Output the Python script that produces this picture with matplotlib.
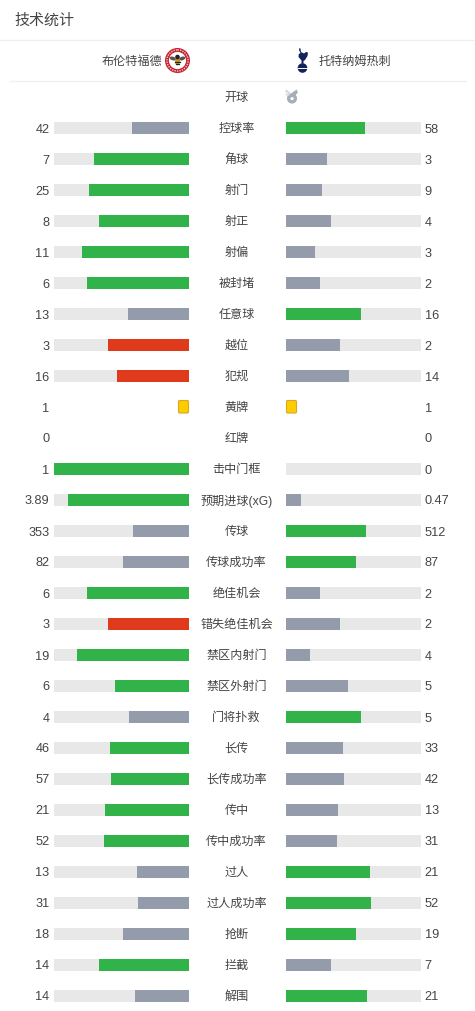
import math
import matplotlib
matplotlib.use('Agg')
import matplotlib.pyplot as plt
from matplotlib.patches import Circle, Ellipse, Polygon, FancyBboxPatch

plt.rcParams['font.family'] = ['Liberation Sans', 'Noto Sans CJK SC', 'DejaVu Sans']
# no pair kerning, "11" should not close up
plt.rcParams['text.kerning_factor'] = 6

stats = ['控球率', '角球', '射门', '射正', '射偏', '被封堵', '任意球', '越位', '犯规',
         '黄牌', '红牌', '击中门框', '预期进球(xG)', '传球', '传球成功率', '绝佳机会',
         '错失绝佳机会', '禁区内射门', '禁区外射门', '门将扑救', '长传', '长传成功率',
         '传中', '传中成功率', '过人', '过人成功率', '抢断', '拦截', '解围']
home = [42, 7, 25, 8, 11, 6, 13, 3, 16, 1, 0, 1, 3.89, 353, 82, 6, 3, 19, 6, 4, 46, 57,
        21, 52, 13, 31, 18, 14, 14]
away = [58, 3, 9, 4, 3, 2, 16, 2, 14, 1, 0, 0, 0.47, 512, 87, 2, 2, 4, 5, 5, 33, 42,
        13, 31, 21, 52, 19, 7, 21]
# more is bad for these, so the leader gets red
bad_stats = ['越位', '犯规', '错失绝佳机会']
card_stats = ['黄牌', '红牌']

GREEN = '#32b34a'
GREY = '#949cac'
RED = '#e03a1c'
TRACK = '#e8e8e8'
TEXT = '#444444'
FS = 8.7

fig = plt.figure(figsize=(4.75, 10.12), dpi=100, facecolor='white')
ax = fig.add_axes([0, 0, 1, 1])
ax.set_xlim(0, 475); ax.set_ylim(1012, 0); ax.axis('off')

# header
ax.text(14.5, 20.5, '技术统计', fontsize=10.8, color=TEXT, ha='left', va='center')
ax.plot([0, 475], [40.5, 40.5], color='#f0f0f0', lw=1)
ax.plot([10, 466], [81.5, 81.5], color='#f0f0f0', lw=1)
ax.text(162, 61.5, '布伦特福德', fontsize=FS, color=TEXT, ha='right', va='center')
ax.text(319, 61.5, '托特纳姆热刺', fontsize=FS, color=TEXT, ha='left', va='center')

# brentford badge
ax.add_patch(Circle((177.5, 61.5), 12.5, fc='#c8202c', ec='none'))
ax.add_patch(Circle((177.5, 61.5), 10.6, fc='none', ec='#eec9cb', lw=1, ls=(0, (1, 0.8))))
ax.add_patch(Circle((177.5, 61.5), 8.6, fc='white', ec='none'))
ax.add_patch(Ellipse((172.8, 59.5), 6.5, 3.6, angle=18, fc='#555555', ec='none'))
ax.add_patch(Ellipse((182.2, 59.5), 6.5, 3.6, angle=-18, fc='#555555', ec='none'))
ax.add_patch(Ellipse((177.5, 62.5), 5, 8, fc='#c9971c', ec='none'))
ax.add_patch(Circle((177.5, 58), 2.3, fc='#222222', ec='none'))
ax.plot([175.3, 179.7], [62.5, 62.5], color='#222222', lw=0.9)
ax.plot([175.6, 179.4], [65, 65], color='#222222', lw=0.8)

# spurs badge
NAVY = '#14225a'
ax.add_patch(Circle((302.5, 69), 4.8, fc=NAVY, ec='none'))
ax.plot([298, 307], [69, 69], color='white', lw=0.7)
ax.add_patch(Polygon([(299.5, 49), (300.5, 49.5), (301, 53), (304, 54.5), (306, 53), (308, 53.5),
                      (307.5, 57), (305, 61), (303.5, 62), (303.5, 64.5), (301.5, 64.5),
                      (301.5, 61.5), (298.5, 58), (298.8, 55), (300.5, 54), (299, 51)],
                     fc=NAVY, ec='none'))

# kick-off whistle
WHISTLE = '#a8aeb9'
ax.add_patch(Circle((292, 99.5), 3.4, fc='white', ec=WHISTLE, lw=2.4))
ax.add_patch(Polygon([(288.5, 96.5), (296.5, 90.5), (298, 93.5), (294.5, 97), (290, 99)],
                     fc=WHISTLE, ec='none'))
ax.plot([286.5, 289], [92, 94], color='#d6d9de', lw=1.6)
ax.plot([286.5, 288.5], [95.5, 96], color='#d6d9de', lw=1.2)

ax.text(236.5, 98, '开球', fontsize=FS, color=TEXT, ha='center', va='center')

row_y = [129 + 31 * i for i in range(len(stats))]
BAR_W = 135
L_END = 189
R_START = 286

for name, y, h_val, a_val in zip(stats, row_y, home, away):
    ax.text(236.5, y, name, fontsize=FS, color=TEXT, ha='center', va='center')
    ax.text(49.5, y - 1, str(h_val), fontsize=9.2, color=TEXT, ha='right', va='center_baseline')
    ax.text(424.5, y - 1, str(a_val), fontsize=9.2, color=TEXT, ha='left', va='center_baseline')

    if name in card_stats:
        if name == '黄牌':
            if h_val:
                ax.add_patch(FancyBboxPatch((178.5, y - 6.5), 10, 12.5, boxstyle='round,pad=0,rounding_size=1.2',
                                            fc='#ffcc00', ec='#d8a920', lw=0.8))
            if a_val:
                ax.add_patch(FancyBboxPatch((286.5, y - 6.5), 10, 12.5, boxstyle='round,pad=0,rounding_size=1.2',
                                            fc='#ffcc00', ec='#d8a920', lw=0.8))
        continue

    total = h_val + a_val
    # the site rounds bar widths up to whole pixels
    h_w = math.ceil(h_val / total * BAR_W)
    a_w = math.ceil(a_val / total * BAR_W)
    top = RED if name in bad_stats else GREEN
    h_col = top if h_val > a_val else GREY
    a_col = top if a_val > h_val else GREY

    ax.barh(y, BAR_W, left=L_END - BAR_W, height=12, color=TRACK, lw=0)
    ax.barh(y, BAR_W, left=R_START, height=12, color=TRACK, lw=0)
    ax.barh(y, h_w, left=L_END - h_w, height=12, color=h_col, lw=0)
    ax.barh(y, a_w, left=R_START, height=12, color=a_col, lw=0)

# barh rescales, so pin the pixel frame again
ax.set_xlim(0, 475); ax.set_ylim(1012, 0)
fig.savefig('out.png', dpi=100, facecolor='white')
